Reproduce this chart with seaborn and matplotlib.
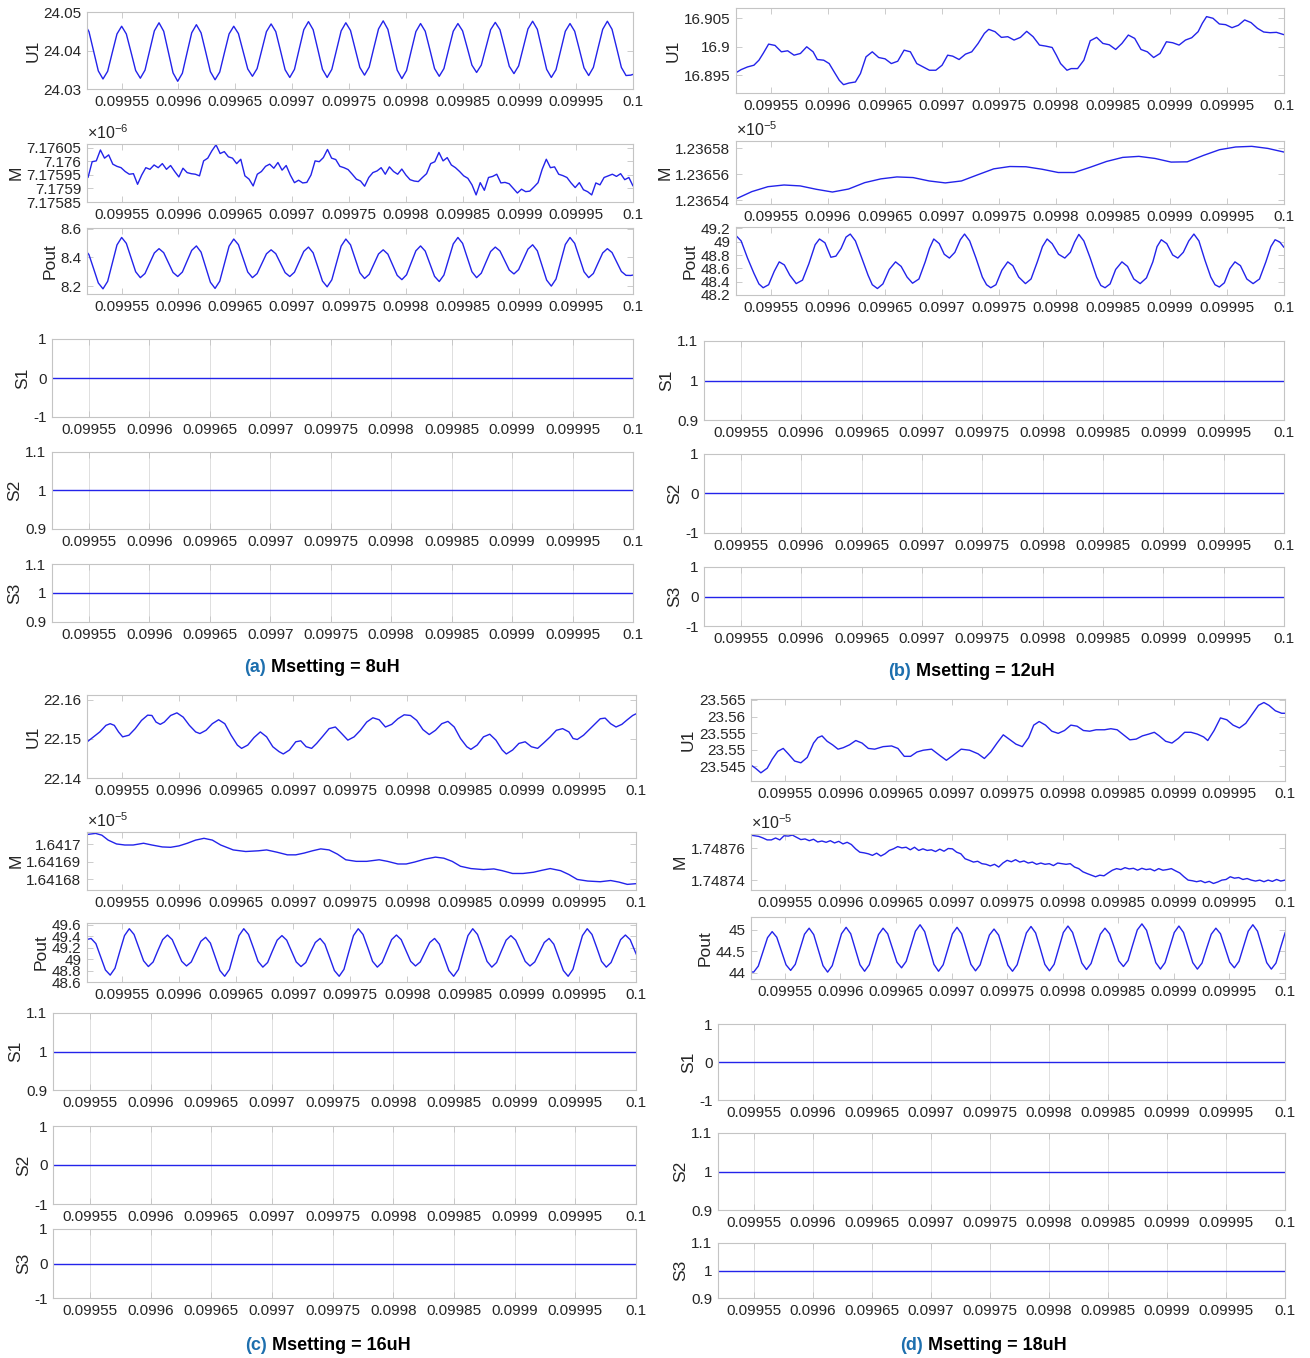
import numpy as np
import pandas as pd
import seaborn as sns
import matplotlib.pyplot as plt
from matplotlib.ticker import FixedLocator, FixedFormatter

sns.set_theme(style="white")
plt.rcParams["font.family"] = ["Liberation Sans", "DejaVu Sans"]
plt.rcParams["mathtext.fontset"] = "custom"
plt.rcParams["mathtext.rm"] = "Liberation Sans"
plt.rcParams["mathtext.default"] = "regular"

# ================= COMMON AXIS =================
# times are stored in microseconds after T0
T0 = 0.0995
XLIM = (0.0995195, 0.1)
XTICKS = [0.09955, 0.0996, 0.09965, 0.0997, 0.09975, 0.0998, 0.09985, 0.0999, 0.09995, 0.1]
XTICK_LABELS = ["0.09955", "0.0996", "0.09965", "0.0997", "0.09975",
                "0.0998", "0.09985", "0.0999", "0.09995", "0.1"]
S_T_US = [19.5, 500.0]

# ================= (a) Msetting = 8uH =================
a_u1 = [24.0470,
        24.0449, 24.0398, 24.0347, 24.0326, 24.0346, 24.0395, 24.0443, 24.0463,
        24.0443, 24.0396, 24.0348, 24.0328, 24.0349, 24.0400, 24.0451, 24.0472,
        24.0450, 24.0396, 24.0342, 24.0320, 24.0341, 24.0394, 24.0446, 24.0467,
        24.0446, 24.0396, 24.0345, 24.0324, 24.0344, 24.0394, 24.0443, 24.0463,
        24.0444, 24.0398, 24.0352, 24.0333, 24.0353, 24.0401, 24.0449, 24.0469,
        24.0449, 24.0400, 24.0350, 24.0330, 24.0351, 24.0403, 24.0454, 24.0475,
        24.0454, 24.0403, 24.0351, 24.0330, 24.0351, 24.0401, 24.0451, 24.0472,
        24.0452, 24.0404, 24.0356, 24.0336, 24.0357, 24.0407, 24.0456, 24.0477,
        24.0455, 24.0402, 24.0349, 24.0327, 24.0348, 24.0399, 24.0449, 24.0470,
        24.0450, 24.0402, 24.0353, 24.0333, 24.0353, 24.0402, 24.0450, 24.0470,
        24.0451, 24.0407, 24.0362, 24.0343, 24.0362, 24.0408, 24.0454, 24.0473,
        24.0454, 24.0407, 24.0359, 24.0340, 24.0360, 24.0408, 24.0456, 24.0476,
        24.0455, 24.0403, 24.0351, 24.0330, 24.0350, 24.0400, 24.0450, 24.0470,
        24.0450, 24.0403, 24.0355, 24.0335, 24.0356, 24.0406, 24.0455, 24.0476,
        24.0455, 24.0406, 24.0356, 24.0335, 24.0336, 24.0340]
a_pout = [8.460,
          8.419, 8.321, 8.222, 8.181, 8.233, 8.360, 8.487, 8.539,
          8.498, 8.399, 8.300, 8.259, 8.288, 8.360, 8.431, 8.461,
          8.433, 8.364, 8.295, 8.267, 8.298, 8.374, 8.449, 8.480,
          8.437, 8.332, 8.227, 8.184, 8.234, 8.356, 8.478, 8.528,
          8.489, 8.394, 8.298, 8.259, 8.287, 8.356, 8.425, 8.453,
          8.426, 8.360, 8.294, 8.267, 8.297, 8.370, 8.442, 8.472,
          8.432, 8.334, 8.235, 8.195, 8.244, 8.362, 8.479, 8.528,
          8.488, 8.391, 8.293, 8.253, 8.282, 8.353, 8.424, 8.453,
          8.423, 8.349, 8.275, 8.245, 8.279, 8.363, 8.446, 8.480,
          8.444, 8.356, 8.268, 8.232, 8.277, 8.386, 8.494, 8.539,
          8.498, 8.399, 8.300, 8.259, 8.290, 8.366, 8.441, 8.472,
          8.445, 8.379, 8.312, 8.285, 8.315, 8.387, 8.458, 8.488,
          8.446, 8.344, 8.242, 8.200, 8.249, 8.370, 8.490, 8.539,
          8.498, 8.399, 8.300, 8.259, 8.288, 8.360, 8.431, 8.461,
          8.434, 8.368, 8.302, 8.275, 8.274, 8.280]
a_t_us = 17.12 + 4.11 * np.arange(len(a_u1))
a_m = [7.175940, 7.175998, 7.176001, 7.176041, 7.176011, 7.176023, 7.175989, 7.175981, 7.175976, 7.175962,
       7.175952, 7.175954, 7.175915, 7.175949, 7.175976, 7.175970, 7.175986, 7.175976, 7.175991, 7.175970,
       7.175984, 7.175962, 7.175942, 7.175974, 7.175958, 7.175954, 7.175952, 7.175946, 7.176001, 7.176011,
       7.176038, 7.176060, 7.176028, 7.176035, 7.176016, 7.176011, 7.175991, 7.176007, 7.175946, 7.175934,
       7.175909, 7.175952, 7.175962, 7.175981, 7.175989, 7.175974, 7.175995, 7.175967, 7.175984, 7.175949,
       7.175921, 7.175930, 7.175920, 7.175922, 7.175949, 7.176001, 7.175998, 7.176013, 7.176043, 7.176011,
       7.176006, 7.175981, 7.175976, 7.175969, 7.175952, 7.175934, 7.175927, 7.175908, 7.175940, 7.175958,
       7.175964, 7.175976, 7.175952, 7.175979, 7.175962, 7.175952, 7.175971, 7.175949, 7.175932, 7.175927,
       7.175925, 7.175940, 7.175954, 7.175991, 7.175998, 7.176032, 7.176001, 7.176013, 7.175986, 7.175976,
       7.175962, 7.175946, 7.175937, 7.175913, 7.175876, 7.175921, 7.175893, 7.175940, 7.175944, 7.175952,
       7.175920, 7.175922, 7.175917, 7.175900, 7.175883, 7.175897, 7.175888, 7.175890, 7.175905, 7.175921,
       7.175970, 7.176007, 7.175976, 7.175979, 7.175952, 7.175947, 7.175940, 7.175920, 7.175903, 7.175921,
       7.175895, 7.175888, 7.175876, 7.175920, 7.175913, 7.175940, 7.175946, 7.175952, 7.175944, 7.175954,
       7.175932, 7.175940, 7.175909]
a_m_t_us = np.linspace(20.4, 500.0, len(a_m))
a_s = [0, 1, 1]

# ================= (b) Msetting = 12uH =================
b_u1_t_us = [19.2, 24.0, 29.6, 35.2, 39.6, 43.3, 48.1, 53.7, 59.3, 64.8,
             70.4, 76.0, 81.5, 87.1, 90.8, 96.4, 101.2, 105.6, 110.1, 113.8,
             118.6, 124.2, 128.6, 133.5, 139.0, 144.6, 150.2, 155.7, 161.3, 166.9,
             172.4, 178.0, 183.6, 189.1, 194.7, 200.2, 205.1, 209.5, 215.1, 220.7,
             226.2, 231.8, 237.3, 241.1, 246.6, 252.2, 257.8, 263.3, 268.9, 274.4,
             280.0, 285.6, 291.1, 296.7, 300.4, 304.1, 309.7, 313.4, 319.0, 324.5,
             330.1, 335.7, 341.2, 346.8, 352.4, 357.9, 363.5, 369.1, 374.6, 380.2,
             385.7, 391.3, 396.9, 402.4, 408.0, 413.6, 419.1, 424.7, 428.4, 432.1,
             437.7, 443.3, 448.8, 454.4, 460.0, 465.5, 471.1, 476.7, 482.2, 487.8,
             493.4, 500.0]
b_u1 = [16.89542, 16.89600, 16.89647, 16.89677, 16.89765, 16.89883, 16.90047, 16.90024, 16.89912, 16.89930,
        16.89853, 16.89883, 16.90000, 16.89912, 16.89777, 16.89765, 16.89706, 16.89559, 16.89412, 16.89336,
        16.89365, 16.89383, 16.89530, 16.89824, 16.89912, 16.89812, 16.89789, 16.89706, 16.89747, 16.89941,
        16.89912, 16.89706, 16.89647, 16.89589, 16.89589, 16.89677, 16.89853, 16.89836, 16.89777, 16.89871,
        16.89912, 16.90059, 16.90235, 16.90306, 16.90265, 16.90165, 16.90177, 16.90118, 16.90165, 16.90271,
        16.90177, 16.90030, 16.90012, 16.89988, 16.89853, 16.89706, 16.89589, 16.89618, 16.89618, 16.89765,
        16.90106, 16.90165, 16.90059, 16.90035, 16.89953, 16.90059, 16.90206, 16.90147, 16.89953, 16.89912,
        16.89812, 16.89883, 16.90088, 16.90071, 16.90030, 16.90118, 16.90159, 16.90265, 16.90412, 16.90529,
        16.90500, 16.90400, 16.90388, 16.90335, 16.90377, 16.90471, 16.90424, 16.90324, 16.90259, 16.90247,
        16.90253, 16.90212]
b_m = [1.2365408, 1.2365465, 1.2365503, 1.2365516, 1.2365509, 1.2365483, 1.2365462, 1.2365485, 1.2365534,
       1.2365563, 1.2365578, 1.2365573, 1.2365547, 1.2365532, 1.2365547, 1.2365594, 1.2365640, 1.2365658,
       1.2365656, 1.2365637, 1.2365612, 1.2365612, 1.2365653, 1.2365697, 1.2365728, 1.2365736, 1.2365720,
       1.2365692, 1.2365694, 1.2365743, 1.2365787, 1.2365808, 1.2365813, 1.2365797, 1.2365769]
b_m_t_us = np.linspace(19.2, 500.0, len(b_m))
b_pout_t_us = [19.2, 24.0, 29.6, 35.2, 39.6, 43.3, 48.1, 53.0, 57.4, 61.9,
               66.7, 72.3, 77.8, 83.4, 88.9, 92.7, 97.5, 102.7, 107.1, 111.6,
               116.0, 119.7, 124.2, 129.8, 135.3, 139.0, 143.5, 148.3, 153.9, 159.4,
               164.3, 169.5, 174.3, 179.9, 185.4, 189.1, 192.9, 197.7, 202.1, 206.6,
               211.4, 216.2, 219.9, 224.4, 229.9, 235.5, 239.2, 242.9, 247.4, 252.6,
               257.8, 262.2, 267.4, 273.3, 278.2, 283.7, 288.2, 292.3, 296.7, 302.3,
               307.8, 312.7, 316.4, 320.1, 324.5, 330.1, 335.7, 339.4, 343.1, 347.5,
               352.4, 357.9, 362.8, 368.3, 373.9, 379.4, 385.0, 388.7, 392.4, 397.2,
               402.4, 406.9, 411.7, 416.5, 421.0, 425.4, 430.6, 435.8, 439.5, 443.3,
               447.7, 452.5, 457.0, 461.8, 467.4, 472.9, 478.5, 484.1, 488.5, 492.2,
               496.3, 500.0]
b_pout = [49.097, 49.011, 48.754, 48.526, 48.366, 48.309, 48.354, 48.554, 48.697, 48.651,
          48.497, 48.371, 48.423, 48.669, 48.954, 49.040, 48.983, 48.766, 48.783, 48.897,
          49.069, 49.114, 49.011, 48.754, 48.497, 48.354, 48.297, 48.366, 48.583, 48.697,
          48.629, 48.469, 48.377, 48.440, 48.697, 48.897, 49.040, 48.971, 48.811, 48.754,
          48.840, 49.029, 49.114, 49.011, 48.754, 48.469, 48.354, 48.309, 48.354, 48.571,
          48.697, 48.640, 48.469, 48.371, 48.440, 48.697, 48.926, 49.040, 48.971, 48.811,
          48.754, 48.840, 48.994, 49.109, 49.011, 48.754, 48.469, 48.343, 48.309, 48.366,
          48.583, 48.697, 48.629, 48.440, 48.371, 48.457, 48.697, 48.926, 49.029, 48.971,
          48.800, 48.754, 48.840, 49.011, 49.114, 49.011, 48.726, 48.469, 48.354, 48.320,
          48.383, 48.594, 48.697, 48.640, 48.440, 48.371, 48.440, 48.697, 48.926, 49.029,
          48.994, 48.914]
b_s = [1, 0, 0]

# ================= (c) Msetting = 16uH =================
c_u1_t_us = [19.7, 25.2, 30.7, 36.1, 39.8, 43.4, 47.1, 50.7, 56.2, 61.7,
             67.2, 72.6, 76.3, 79.9, 83.6, 87.2, 92.7, 98.2, 103.7, 109.1,
             114.6, 118.3, 123.7, 129.2, 134.7, 140.1, 145.6, 151.1, 154.8, 160.2,
             165.7, 171.2, 176.7, 182.1, 187.6, 191.3, 196.7, 202.2, 206.6, 211.3,
             216.1, 220.5, 225.9, 231.4, 236.9, 242.4, 247.8, 253.3, 258.8, 264.3,
             269.7, 275.2, 280.7, 286.2, 291.6, 297.1, 302.6, 308.1, 313.5, 319.0,
             324.5, 330.0, 335.4, 340.9, 346.4, 351.9, 355.5, 361.0, 366.5, 372.0,
             377.4, 382.9, 386.5, 392.0, 397.5, 403.0, 408.4, 413.9, 419.4, 424.9,
             430.3, 435.8, 441.3, 444.9, 448.6, 454.1, 461.4, 468.7, 473.0, 477.8,
             482.5, 487.6, 492.4, 497.1, 500.0]
c_u1 = [22.14925, 22.15051, 22.15177, 22.15345, 22.15387, 22.15345, 22.15177, 22.15051, 22.15093, 22.15261,
        22.15471, 22.15605, 22.15597, 22.15429, 22.15370, 22.15429, 22.15597, 22.15664, 22.15555, 22.15345,
        22.15177, 22.15135, 22.15219, 22.15387, 22.15488, 22.15387, 22.15093, 22.14841, 22.14757, 22.14841,
        22.15034, 22.15177, 22.15051, 22.14799, 22.14673, 22.14614, 22.14715, 22.14925, 22.14950, 22.14799,
        22.14757, 22.14883, 22.15068, 22.15261, 22.15303, 22.15135, 22.14967, 22.15051, 22.15219, 22.15429,
        22.15538, 22.15488, 22.15303, 22.15370, 22.15513, 22.15614, 22.15597, 22.15471, 22.15236, 22.15110,
        22.15219, 22.15387, 22.15446, 22.15303, 22.15009, 22.14799, 22.14732, 22.14841, 22.15051, 22.15118,
        22.14967, 22.14715, 22.14614, 22.14715, 22.14883, 22.14925, 22.14799, 22.14757, 22.14900, 22.15051,
        22.15219, 22.15261, 22.15177, 22.15009, 22.14984, 22.15093, 22.15303, 22.15513, 22.15530, 22.15387,
        22.15303, 22.15370, 22.15488, 22.15597, 22.15639]
c_m_t_us = [19.7, 27.0, 32.5, 38.0, 45.3, 52.6, 59.9, 69.0, 76.3, 85.4,
            92.7, 100.0, 107.3, 114.6, 121.9, 129.2, 136.5, 147.5, 158.4, 169.4,
            176.7, 185.8, 194.9, 202.2, 209.5, 216.8, 224.1, 231.4, 238.7, 246.0,
            255.1, 264.3, 275.2, 282.5, 291.6, 298.9, 306.2, 315.4, 324.5, 331.8,
            339.1, 346.4, 355.5, 366.5, 375.6, 382.9, 392.0, 401.1, 410.3, 417.6,
            424.9, 434.0, 441.3, 448.6, 457.7, 468.7, 477.8, 485.1, 492.4, 500.0]
c_m = [1.6417056, 1.6417062, 1.6417052, 1.6417024, 1.6417002, 1.6416996, 1.6416996, 1.6417006, 1.6416996, 1.6416985,
       1.6416983, 1.6416991, 1.6417006, 1.6417024, 1.6417034, 1.6417024, 1.6416996, 1.6416968, 1.6416959, 1.6416963,
       1.6416968, 1.6416955, 1.6416940, 1.6416940, 1.6416950, 1.6416963, 1.6416974, 1.6416968, 1.6416944, 1.6416912,
       1.6416903, 1.6416903, 1.6416912, 1.6416903, 1.6416888, 1.6416888, 1.6416899, 1.6416916, 1.6416927, 1.6416921,
       1.6416903, 1.6416875, 1.6416862, 1.6416856, 1.6416860, 1.6416850, 1.6416834, 1.6416834, 1.6416841, 1.6416852,
       1.6416862, 1.6416850, 1.6416828, 1.6416800, 1.6416791, 1.6416787, 1.6416794, 1.6416785, 1.6416772, 1.6416776]
c_pout = [49.34, 49.36,
          49.27, 49.04, 48.81, 48.72, 48.84, 49.13, 49.41, 49.53,
          49.43, 49.20, 48.97, 48.87, 48.95, 49.15, 49.34, 49.42,
          49.34, 49.15, 48.96, 48.88, 48.95, 49.13, 49.31, 49.38,
          49.28, 49.04, 48.80, 48.70, 48.82, 49.12, 49.41, 49.53,
          49.43, 49.20, 48.96, 48.86, 48.94, 49.14, 49.33, 49.41,
          49.33, 49.14, 48.95, 48.87, 48.94, 49.12, 49.29, 49.36,
          49.26, 49.03, 48.80, 48.70, 48.82, 49.12, 49.41, 49.53,
          49.43, 49.20, 48.96, 48.86, 48.94, 49.14, 49.34, 49.42,
          49.34, 49.15, 48.96, 48.88, 48.95, 49.12, 49.29, 49.36,
          49.26, 49.03, 48.80, 48.70, 48.82, 49.12, 49.41, 49.53,
          49.43, 49.20, 48.96, 48.86, 48.94, 49.14, 49.33, 49.41,
          49.33, 49.15, 48.96, 48.88, 48.95, 49.12, 49.29, 49.36,
          49.26, 49.03, 48.80, 48.70, 48.82, 49.12, 49.41, 49.53,
          49.43, 49.20, 48.96, 48.86, 48.94, 49.14, 49.34, 49.42,
          49.34, 49.14, 48.95]
c_pout_t_us = 18.93 + 4.175 * np.arange(len(c_pout))
c_s = [1, 0, 0]

# ================= (d) Msetting = 18uH =================
d_u1_t_us = [18.9, 23.5, 28.4, 34.1, 38.6, 43.6, 48.5, 53.0, 58.7, 64.4,
             70.1, 75.8, 79.6, 83.4, 88.0, 92.9, 97.8, 102.4, 108.1, 113.8,
             119.4, 125.1, 130.8, 138.4, 146.0, 151.7, 157.4, 163.1, 168.8, 174.5,
             182.0, 189.6, 195.3, 201.0, 208.6, 216.2, 223.8, 229.5, 235.2, 240.9,
             246.5, 252.2, 257.9, 263.6, 269.3, 273.9, 278.8, 284.5, 290.2, 295.9,
             301.6, 307.3, 312.9, 318.6, 324.3, 330.0, 337.6, 343.3, 349.0, 354.7,
             360.4, 366.1, 371.7, 377.4, 382.4, 386.9, 392.6, 398.3, 404.0, 409.7,
             415.4, 421.1, 426.8, 430.5, 436.2, 441.9, 447.6, 453.3, 459.0, 464.7,
             470.4, 476.1, 481.0, 485.6, 491.3, 497.0, 500.0]
d_u1 = [23.54554, 23.54446, 23.54306, 23.54446, 23.54716, 23.54954, 23.55041, 23.54879, 23.54662, 23.54608,
        23.54770, 23.55203, 23.55365, 23.55419, 23.55257, 23.55149, 23.55019, 23.55062, 23.55149, 23.55279,
        23.55203, 23.55041, 23.55019, 23.55095, 23.55116, 23.55041, 23.54803, 23.54803, 23.54933, 23.54987,
        23.55019, 23.54824, 23.54684, 23.54824, 23.55019, 23.54987, 23.54879, 23.54738, 23.54933, 23.55203,
        23.55451, 23.55311, 23.55170, 23.55095, 23.55365, 23.55743, 23.55851, 23.55743, 23.55560, 23.55495,
        23.55581, 23.55743, 23.55711, 23.55581, 23.55560, 23.55603, 23.55603, 23.55635, 23.55603, 23.55451,
        23.55300, 23.55322, 23.55419, 23.55473, 23.55527, 23.55419, 23.55257, 23.55203, 23.55343, 23.55527,
        23.55527, 23.55473, 23.55387, 23.55279, 23.55581, 23.55960, 23.55905, 23.55743, 23.55657, 23.55797,
        23.56068, 23.56338, 23.56424, 23.56338, 23.56176, 23.56100, 23.56100]
d_m = [1.7487682, 1.7487678, 1.7487674, 1.7487664, 1.7487652, 1.7487652, 1.7487664, 1.7487652, 1.7487678, 1.7487676,
       1.7487682, 1.7487668, 1.7487654, 1.7487658, 1.7487647, 1.7487656, 1.7487639, 1.7487645, 1.7487637, 1.7487647,
       1.7487633, 1.7487643, 1.7487627, 1.7487637, 1.7487623, 1.7487596, 1.7487575, 1.7487571, 1.7487565, 1.7487555,
       1.7487569, 1.7487551, 1.7487565, 1.7487586, 1.7487596, 1.7487610, 1.7487602, 1.7487606, 1.7487590, 1.7487606,
       1.7487586, 1.7487596, 1.7487586, 1.7487590, 1.7487579, 1.7487594, 1.7487581, 1.7487598, 1.7487596, 1.7487575,
       1.7487565, 1.7487534, 1.7487524, 1.7487513, 1.7487518, 1.7487503, 1.7487499, 1.7487489, 1.7487499, 1.7487482,
       1.7487507, 1.7487524, 1.7487515, 1.7487528, 1.7487513, 1.7487520, 1.7487507, 1.7487513, 1.7487499, 1.7487507,
       1.7487499, 1.7487503, 1.7487491, 1.7487507, 1.7487503, 1.7487499, 1.7487503, 1.7487482, 1.7487472, 1.7487452,
       1.7487441, 1.7487431, 1.7487421, 1.7487431, 1.7487427, 1.7487445, 1.7487462, 1.7487472, 1.7487466, 1.7487478,
       1.7487470, 1.7487474, 1.7487462, 1.7487474, 1.7487466, 1.7487470, 1.7487458, 1.7487472, 1.7487462, 1.7487466,
       1.7487472, 1.7487458, 1.7487445, 1.7487421, 1.7487400, 1.7487396, 1.7487390, 1.7487396, 1.7487384, 1.7487392,
       1.7487379, 1.7487388, 1.7487400, 1.7487404, 1.7487421, 1.7487412, 1.7487416, 1.7487404, 1.7487410, 1.7487400,
       1.7487394, 1.7487400, 1.7487390, 1.7487400, 1.7487392, 1.7487404, 1.7487394, 1.7487400]
d_m_t_us = np.linspace(18.9, 500.0, len(d_m))
d_pout = [44.03, 44.02,
          44.16, 44.49, 44.82, 44.96, 44.83, 44.51, 44.19, 44.06,
          44.20, 44.55, 44.90, 45.04, 44.89, 44.53, 44.17, 44.02,
          44.17, 44.54, 44.91, 45.06, 44.91, 44.55, 44.19, 44.04,
          44.19, 44.54, 44.89, 45.04, 44.91, 44.58, 44.25, 44.12,
          44.27, 44.62, 44.97, 45.12, 44.96, 44.58, 44.20, 44.04,
          44.19, 44.55, 44.91, 45.06, 44.91, 44.56, 44.20, 44.05,
          44.19, 44.54, 44.88, 45.02, 44.88, 44.53, 44.18, 44.04,
          44.19, 44.56, 44.93, 45.08, 44.93, 44.57, 44.20, 44.05,
          44.20, 44.57, 44.94, 45.09, 44.94, 44.59, 44.23, 44.08,
          44.22, 44.56, 44.90, 45.04, 44.91, 44.60, 44.28, 44.15,
          44.29, 44.65, 45.00, 45.14, 44.99, 44.62, 44.24, 44.09,
          44.24, 44.59, 44.94, 45.09, 44.94, 44.59, 44.24, 44.09,
          44.23, 44.57, 44.90, 45.04, 44.91, 44.58, 44.25, 44.12,
          44.27, 44.62, 44.97, 45.12, 44.97, 44.61, 44.24, 44.09,
          44.23, 44.59, 44.94, 45.08]
d_pout_t_us = 17.74 + 4.159 * np.arange(len(d_pout))
d_s = [0, 1, 1]

# ---------------- y axis settings (limits, ticks, labels) ----------------
Y_A = [((24.03, 24.05), [24.03, 24.04, 24.05], ["24.03", "24.04", "24.05"]),
       ((7.17585, 7.176063), [7.17585, 7.1759, 7.17595, 7.176, 7.17605],
        ["7.17585", "7.1759", "7.17595", "7.176", "7.17605"]),
       ((8.145, 8.605), [8.2, 8.4, 8.6], ["8.2", "8.4", "8.6"])]
Y_B = [((16.8919, 16.9068), [16.895, 16.9, 16.905], ["16.895", "16.9", "16.905"]),
       ((1.236537, 1.2365854), [1.23654, 1.23656, 1.23658], ["1.23654", "1.23656", "1.23658"]),
       ((48.2, 49.22), [48.2, 48.4, 48.6, 48.8, 49.0, 49.2], ["48.2", "48.4", "48.6", "48.8", "49", "49.2"])]
Y_C = [((22.14, 22.1612), [22.14, 22.15, 22.16], ["22.14", "22.15", "22.16"]),
       ((1.641674, 1.641707), [1.64168, 1.64169, 1.6417], ["1.64168", "1.64169", "1.6417"]),
       ((48.6, 49.63), [48.6, 48.8, 49.0, 49.2, 49.4, 49.6], ["48.6", "48.8", "49", "49.2", "49.4", "49.6"])]
Y_D = [((23.5406, 23.5653), [23.545, 23.55, 23.555, 23.56, 23.565],
        ["23.545", "23.55", "23.555", "23.56", "23.565"]),
       ((1.7487338, 1.7487689), [1.74874, 1.74876], ["1.74874", "1.74876"]),
       ((43.86, 45.3), [44.0, 44.5, 45.0], ["44", "44.5", "45"])]

BLUE = "#2323ea"
EDGE = "#c4c4c4"
TXT = "#262626"
CAP_BLUE = "#1d6fae"
FIG_W, FIG_H = 1310, 1358


def frac(box):
    x0, y0, x1, y1 = box
    return [x0 / FIG_W, 1 - y1 / FIG_H, (x1 - x0) / FIG_W, (y1 - y0) / FIG_H]


def style(ax, grid):
    ax.set_xlim(XLIM)
    ax.xaxis.set_major_locator(FixedLocator(XTICKS))
    ax.xaxis.set_major_formatter(FixedFormatter(XTICK_LABELS))
    for sp in ax.spines.values():
        sp.set_visible(True)
        sp.set_color(EDGE)
        sp.set_linewidth(0.8)
    ax.tick_params(direction="in", length=4, width=0.6, color=EDGE,
                   top=True, right=True, bottom=True, left=True,
                   labelsize=11, labelcolor=TXT, pad=4)
    ax.set_xlabel("")
    if grid:
        ax.grid(True, color="#dedede", linewidth=0.7)
    else:
        ax.grid(False)


def line(ax, t_us, vals):
    df = pd.DataFrame({"t": T0 + np.asarray(t_us, dtype=float) * 1e-6, "v": vals})
    sns.lineplot(data=df, x="t", y="v", ax=ax, color=BLUE, linewidth=1.0,
                 estimator=None, sort=False)


def panel(fig, series, yset, svals, exps, top_x, s_x, right, rows):
    names = ["U1", "M", "Pout"]
    for i, (t_us, vals) in enumerate(series):
        ax = fig.add_axes(frac((top_x, rows[i][0], right, rows[i][1])))
        line(ax, t_us, vals)
        style(ax, grid=False)
        ylim, yt, yl = yset[i]
        ax.set_ylim(ylim)
        ax.yaxis.set_major_locator(FixedLocator(yt))
        ax.yaxis.set_major_formatter(FixedFormatter(yl))
        ax.set_ylabel(names[i], fontsize=12.5, color=TXT, labelpad=2)
        if i == 1:
            ax.text(0.0, 1.03, "×10$^{%s}$" % exps, transform=ax.transAxes,
                    ha="left", va="bottom", fontsize=11.5, color=TXT)
    for j, s in enumerate(svals):
        ax = fig.add_axes(frac((s_x, rows[3 + j][0], right, rows[3 + j][1])))
        line(ax, S_T_US, [s, s])
        style(ax, grid=True)
        if s == 0:
            ax.set_ylim(-1, 1)
            ax.yaxis.set_major_locator(FixedLocator([-1, 0, 1]))
            ax.yaxis.set_major_formatter(FixedFormatter(["-1", "0", "1"]))
        else:
            ax.set_ylim(0.9, 1.1)
            ax.yaxis.set_major_locator(FixedLocator([0.9, 1.0, 1.1]))
            ax.yaxis.set_major_formatter(FixedFormatter(["0.9", "1", "1.1"]))
        ax.set_ylabel("S%d" % (j + 1), fontsize=12.5, color=TXT, labelpad=2)


def caption(fig, tag, text, x_split, y):
    fig.text((x_split - 1) / FIG_W, 1 - y / FIG_H, "(%s)" % tag, ha="right", va="center",
             fontsize=13, fontweight="bold", color=CAP_BLUE)
    fig.text((x_split + 4) / FIG_W, 1 - y / FIG_H, text, ha="left", va="center",
             fontsize=13, fontweight="bold", color="black")


fig = plt.figure(figsize=(FIG_W / 100, FIG_H / 100), dpi=100)

panel(fig, [(a_t_us, a_u1), (a_m_t_us, a_m), (a_t_us, a_pout)], Y_A, a_s, "-6",
      87, 52, 633, [(12, 89), (144, 202), (228, 294), (339, 417), (452, 529), (564, 622)])
panel(fig, [(b_u1_t_us, b_u1), (b_m_t_us, b_m), (b_pout_t_us, b_pout)], Y_B, b_s, "-5",
      736, 704, 1284, [(8, 93), (141, 204), (227, 295), (341, 420), (454, 533), (567, 626)])
panel(fig, [(c_u1_t_us, c_u1), (c_m_t_us, c_m), (c_pout_t_us, c_pout)], Y_C, c_s, "-5",
      87, 53, 636, [(695, 778), (832, 890), (923, 982), (1013, 1090), (1126, 1204), (1229, 1298)])
panel(fig, [(d_u1_t_us, d_u1), (d_m_t_us, d_m), (d_pout_t_us, d_pout)], Y_D, d_s, "-5",
      751, 718, 1285, [(699, 781), (834, 890), (917, 979), (1024, 1100), (1133, 1210), (1243, 1298)])

caption(fig, "a", "Msetting = 8uH", 267, 668)
caption(fig, "b", "Msetting = 12uH", 912, 672)
caption(fig, "c", "Msetting = 16uH", 268, 1345)
caption(fig, "d", "Msetting = 18uH", 924, 1345)

fig.savefig("out.png", dpi=100)
plt.close(fig)
